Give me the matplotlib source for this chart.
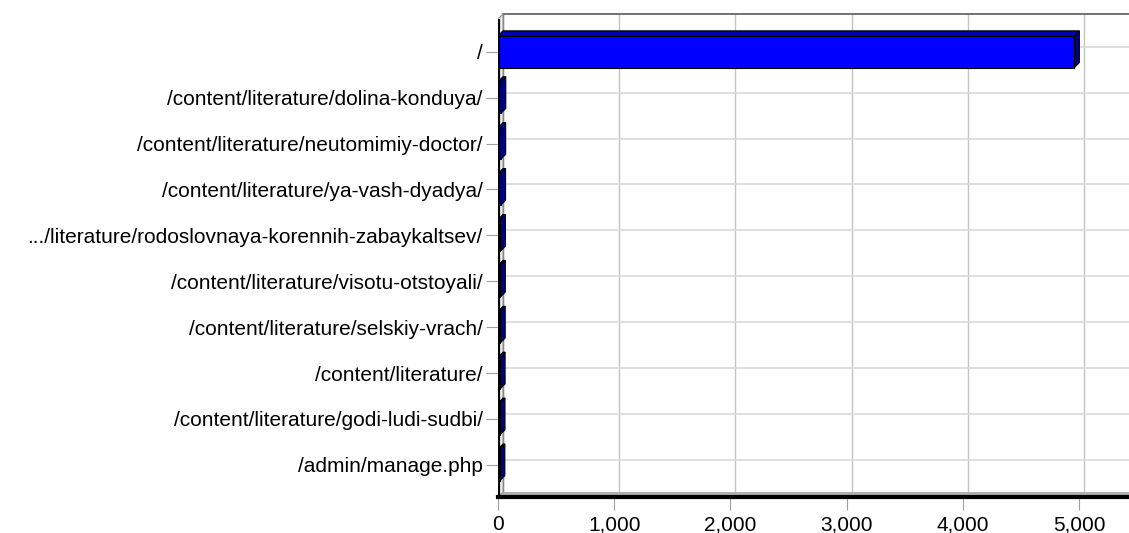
import matplotlib.pyplot as plt
from matplotlib.patches import Polygon, Rectangle

# page hits per url
pages = ['/', '/content/literature/dolina-konduya/', '/content/literature/neutomimiy-doctor/',
         '/content/literature/ya-vash-dyadya/', '.../literature/rodoslovnaya-korennih-zabaykaltsev/',
         '/content/literature/visotu-otstoyali/', '/content/literature/selskiy-vrach/',
         '/content/literature/', '/content/literature/godi-ludi-sudbi/', '/admin/manage.php']
hits = [4960, 24, 23, 22, 21, 20, 19, 18, 17, 16]
xticks = [0, 1000, 2000, 3000, 4000, 5000]

plt.rcParams['font.family'] = ['Liberation Sans', 'DejaVu Sans']

W, H = 1129, 533
fig = plt.figure(figsize=(W / 100, H / 100), dpi=100)
ax = fig.add_axes([498 / W, (H - 497) / H, (W - 498) / W, (497 - 14) / H])

xmax = 5430
ax.set_xlim(0, xmax)
ax.set_ylim(9.70, -0.821)
dx = 43        # depth in x units
dy = -0.109    # depth in category units
ytop, ybot = -0.712, 9.70
h = 0.69

for s in ax.spines.values():
    s.set_visible(False)

# back wall grid
for t in xticks:
    ax.plot([t + dx, t + dx], [ytop + dy, ybot + dy], color='#c4c4c4', lw=1, zorder=1)
for i in range(len(pages)):
    ax.plot([dx, xmax], [i + dy, i + dy], color='#d9d9d9', lw=1.2, zorder=1)
# back wall frame
ax.plot([dx, xmax + 10], [ytop + dy, ytop + dy], color='#5a5a5a', lw=1.2, zorder=2, clip_on=False)
ax.plot([dx, dx], [ytop + dy, ybot + dy], color='#808080', lw=1, zorder=2)

# left wall and floor
ax.add_patch(Polygon([(0, ytop), (dx, ytop + dy), (dx, ybot + dy), (0, ybot)],
                     closed=True, facecolor='#ececec', edgecolor='#909090', lw=0.8, zorder=2))
ax.add_patch(Polygon([(0, ybot), (dx, ybot + dy), (xmax + 10, ybot + dy), (xmax + 10, ybot)],
                     closed=True, facecolor='#b0b0b0', edgecolor='none', zorder=2, clip_on=False))
ax.plot([0, 0], [ytop, ybot], color='black', lw=3, zorder=6, solid_capstyle='butt')
ax.plot([0, xmax + 10], [ybot, ybot], color='black', lw=3, zorder=6, clip_on=False)

# 3d bars
for i, v in enumerate(hits):
    y0, y1 = i - h / 2, i + h / 2
    front = '#0000ff' if v > 100 else '#000090'
    ax.add_patch(Polygon([(0, y0), (v, y0), (v + dx, y0 + dy), (dx, y0 + dy)], closed=True,
                         facecolor='#0000b0', edgecolor='black', lw=0.8, zorder=4))
    ax.add_patch(Polygon([(v, y0), (v + dx, y0 + dy), (v + dx, y1 + dy), (v, y1)], closed=True,
                         facecolor='#000080', edgecolor='black', lw=0.8, zorder=4))
    ax.add_patch(Rectangle((0, y0), v, h, facecolor=front, edgecolor='black', lw=0.8, zorder=5))

ax.set_yticks(range(len(pages)))
ax.set_yticklabels(pages, fontsize=15)
ax.set_xticks(xticks)
ax.set_xticklabels([f'{t:,}' for t in xticks], fontsize=15)
ax.tick_params(axis='y', length=9, color='#a0a0a0', pad=2)
ax.tick_params(axis='x', length=9, color='#a0a0a0', pad=4)

fig.savefig('out.png', dpi=100)
